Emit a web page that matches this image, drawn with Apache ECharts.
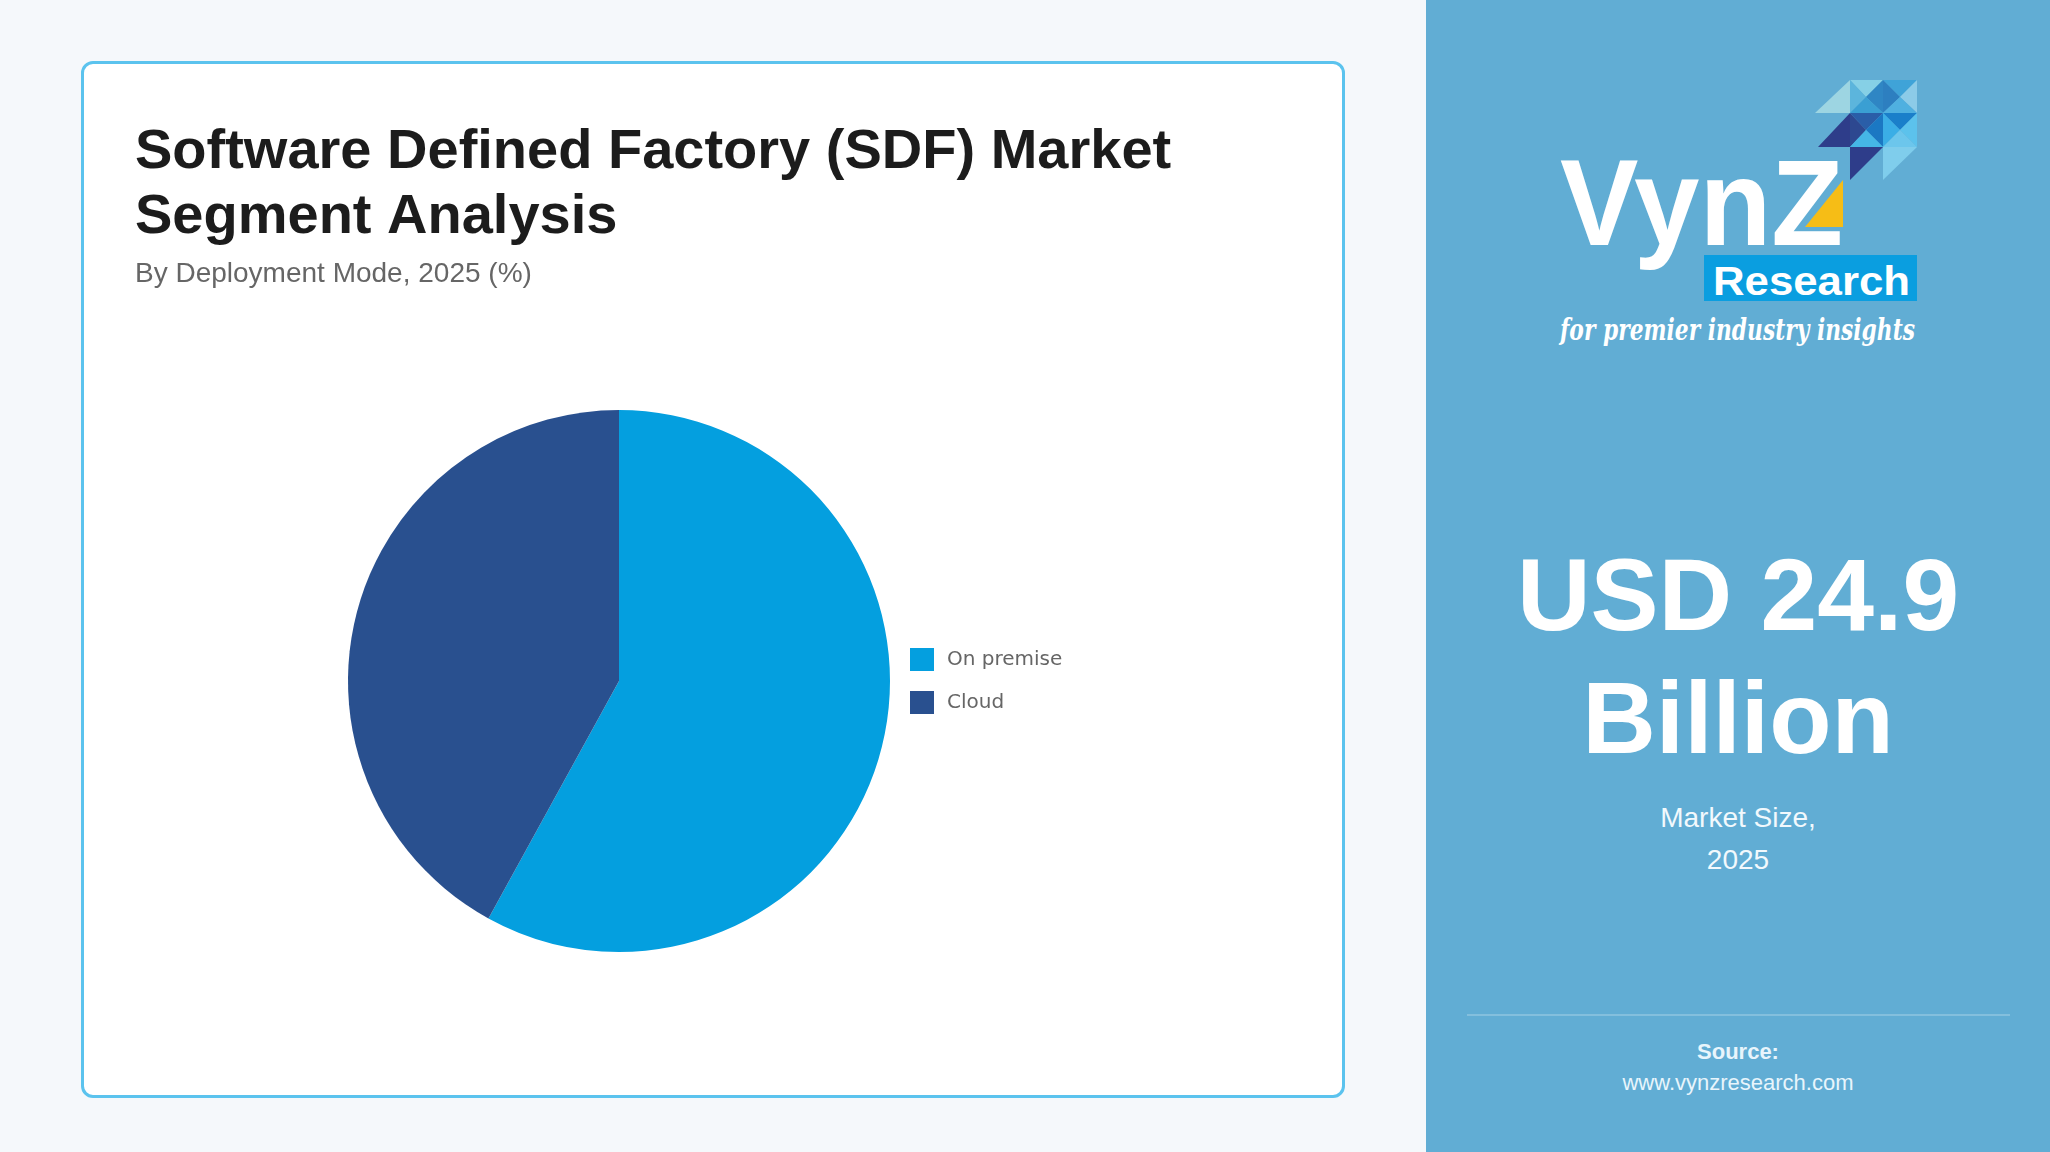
<!DOCTYPE html>
<html>
<head>
    <meta charset="utf-8">
    <title>Software Defined Factory (SDF) Market Segment Analysis</title>
    <script src="https://cdn.jsdelivr.net/npm/echarts@6/dist/echarts.min.js"></script>
    <style>
        html, body { margin: 0; padding: 0; }
        body {
            width: 2050px; height: 1152px; position: relative; overflow: hidden;
            background: #f5f8fb; font-family: "Liberation Sans", Arial, sans-serif;
        }
        .card {
            position: absolute; left: 81px; top: 61px; width: 1264px; height: 1037px;
            box-sizing: border-box; border: 3px solid #5bc3ee; border-radius: 12px; background: #fff;
        }
        #chart1 { width: 100%; height: 100%; }
        .side {
            position: absolute; left: 1426px; top: 0; width: 624px; height: 1152px;
            background: #61add4; color: #fff; text-align: center;
        }
        .side .logo { position: absolute; left: 0; top: 0; }
        .big {
            position: absolute; left: 0; width: 100%; top: 534px;
            font-size: 102px; line-height: 123px; font-weight: bold;
        }
        .size {
            position: absolute; left: 0; width: 100%; top: 797px;
            font-size: 28px; line-height: 42px; color: #f2f9fd;
        }
        .rule {
            position: absolute; left: 41px; width: 543px; top: 1014px; height: 2px;
            background: rgba(255,255,255,0.22);
        }
        .src {
            position: absolute; left: 0; width: 100%; top: 1036px;
            font-size: 22px; line-height: 31px; color: #e8f5fc;
        }
        .src b { display: block; }
    </style>
</head>
<body>

<div class="card">
    <!-- pie chart + title -->
    <div id="chart1"></div>
</div>

<div class="side">
    <svg class="logo" width="624" height="400" viewBox="1426 0 624 400">
        <!-- triangle mosaic -->
        <polygon points="1815,113 1850,80 1850,113" fill="#9dd5e2"/>
        <polygon points="1850,80 1883,80 1866,97" fill="#86d0e6"/>
        <polygon points="1850,80 1850,113 1866,97" fill="#5cb5dc"/>
        <polygon points="1883,80 1883,113 1866,97" fill="#2f86c4"/>
        <polygon points="1850,113 1883,113 1866,97" fill="#3a9fd3"/>
        <polygon points="1883,80 1917,80 1900,97" fill="#3fa3d8"/>
        <polygon points="1883,80 1883,113 1900,97" fill="#2d7fc0"/>
        <polygon points="1917,80 1917,113 1900,97" fill="#8ccbe8"/>
        <polygon points="1883,113 1917,113 1900,97" fill="#4fb0e0"/>
        <polygon points="1818,147 1850,113 1850,147" fill="#2e3d8a"/>
        <polygon points="1850,113 1883,113 1866,130" fill="#2a5ea8"/>
        <polygon points="1850,113 1850,147 1866,130" fill="#2d4890"/>
        <polygon points="1883,113 1883,147 1866,130" fill="#1b78c3"/>
        <polygon points="1850,147 1883,147 1866,130" fill="#45b6e6"/>
        <polygon points="1883,113 1917,113 1900,130" fill="#1a7fca"/>
        <polygon points="1883,113 1883,147 1900,130" fill="#3aaee6"/>
        <polygon points="1917,113 1917,147 1900,130" fill="#5cc2ec"/>
        <polygon points="1883,147 1917,147 1900,130" fill="#6cc6ec"/>
        <polygon points="1850,147 1883,147 1850,180" fill="#2e3d8a"/>
        <polygon points="1883,147 1917,147 1883,180" fill="#7fcdec"/>
        <!-- yellow triangle inside Z -->
        <polygon points="1843,180 1843,227 1805,227" fill="#f6bd16"/>
        <text x="1560" y="245" font-size="123" font-weight="bold" fill="#fff"
              font-family="Liberation Sans, Arial" textLength="283" lengthAdjust="spacingAndGlyphs">VynZ</text>
        <rect x="1704" y="255" width="213" height="46" fill="#0a9ee0"/>
        <text x="1713" y="295" font-size="40" font-weight="bold" fill="#fff"
              font-family="Liberation Sans, Arial" textLength="197" lengthAdjust="spacingAndGlyphs">Research</text>
        <text x="1560" y="340" font-size="30" font-style="italic" font-weight="bold" fill="#fff"
              font-family="DejaVu Serif, serif" textLength="355" lengthAdjust="spacingAndGlyphs">for premier industry insights</text>
    </svg>

    <div class="big">USD 24.9<br>Billion</div>
    <div class="size">Market Size,<br>2025</div>
    <div class="rule"></div>
    <div class="src"><b>Source:</b>www.vynzresearch.com</div>
</div>

<script type="text/javascript">
    // 数据
    var segmentNames = ['On premise', 'Cloud'];
    var segmentShares = [58, 42];
    var palette = ['#049fdf', '#29508f'];

    var myChart1 = echarts.init(document.getElementById('chart1'));

    var pieData = segmentNames.map(function (name, i) {
        return {name: name, value: segmentShares[i]};
    });

    myChart1.setOption({
        animation: false,
        color: palette,
        title: {
            text: 'Software Defined Factory (SDF) Market\nSegment Analysis',
            subtext: 'By Deployment Mode, 2025 (%)',
            left: 51,
            top: 56,
            itemGap: 7,
            padding: 0,
            textStyle: {
                fontFamily: 'Liberation Sans',
                fontSize: 56,
                fontWeight: 'bold',
                lineHeight: 65,
                color: '#1c1c1c'
            },
            subtextStyle: {
                fontFamily: 'Liberation Sans',
                fontSize: 28,
                lineHeight: 34,
                color: '#666'
            }
        },
        legend: {
            orient: 'vertical',
            left: 826,
            top: 584,
            icon: 'rect',
            itemWidth: 24,
            itemHeight: 23,
            itemGap: 20,
            padding: 0,
            data: segmentNames,
            textStyle: {
                fontFamily: 'DejaVu Sans',
                fontSize: 20,
                color: '#666',
                padding: [0, 0, 0, 8]
            }
        },
        series: [
            {
                name: 'Deployment Mode',
                type: 'pie',
                radius: 271,
                center: [535, 617],
                startAngle: 90,
                clockwise: true,
                label: {show: false},
                labelLine: {show: false},
                itemStyle: {borderWidth: 0},
                data: pieData
            }
        ]
    });
</script>

</body>
</html>
